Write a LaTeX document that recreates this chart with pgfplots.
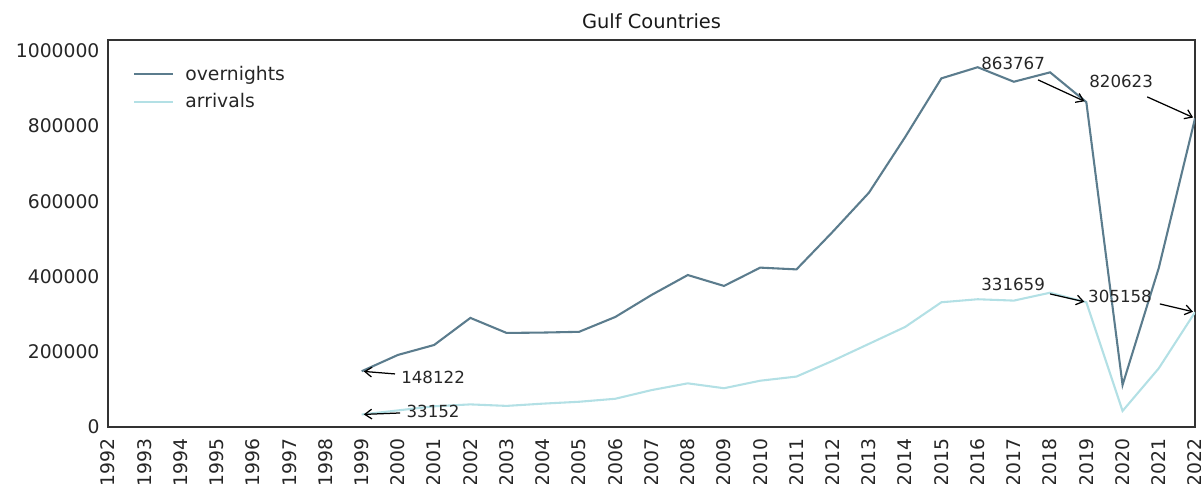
\documentclass[border=0pt]{standalone}
\usepackage{fontspec}
\setmainfont{DejaVu Sans}
\usepackage{pgfplots}
\pgfplotsset{compat=1.18}
\usetikzlibrary{arrows.meta}
\definecolor{over}{HTML}{5B7C8D}
\definecolor{arr}{HTML}{B3E0E5}
\definecolor{frame}{HTML}{333333}
\newcommand{\bigf}{\fontsize{13.5}{16}\selectfont}
\newcommand{\annf}{\fontsize{12}{14}\selectfont}

\begin{document}
\begin{tikzpicture}
\begin{axis}[
  name=ax,
  width=782.6pt, height=278.6pt, scale only axis,
  xmin=1992, xmax=2022, ymin=0, ymax=1029000,
  axis line style={frame, line width=1.4pt},
  xtick={1992,...,2022},
  ytick={0,200000,400000,600000,800000,1000000},
  major tick length=0pt,
  scaled y ticks=false,
  /pgf/number format/assume math mode=true,
  /pgf/number format/1000 sep={},
  /pgf/number format/fixed,
  tick label style={font=\bigf, text=black!85},
  xticklabel style={rotate=90, anchor=east, inner sep=0pt, xshift=-8pt},
  yticklabel style={anchor=east, inner sep=0pt, xshift=-6pt},
  title={Gulf Countries},
  title style={font=\fontsize{14}{16}\selectfont, text=black!90, at={(0.5,1)}, anchor=south, inner sep=0pt, yshift=2pt},
  legend style={draw=none, fill=none, at={(0.023,0.94)}, anchor=north west,
    inner sep=0pt, row sep=4pt, font=\bigf, text=black!85},
  legend cell align=left,
  legend image code/.code={\draw[#1] (0pt,0pt) -- (28pt,0pt); \path (34pt,0pt);},
]
\addplot[over, line width=1.5pt] coordinates {
  (1999,148122) (2000,191500) (2001,218000) (2002,290000) (2003,250000)
  (2004,251000) (2005,253000) (2006,292500) (2007,351000) (2008,404000)
  (2009,375000) (2010,423700) (2011,419000) (2012,519000) (2013,623000)
  (2014,771000) (2015,927000) (2016,956600) (2017,918000) (2018,943000)
  (2019,863767) (2020,111700) (2021,423000) (2022,820623)
};
\addlegendentry{overnights}
\addplot[arr, line width=1.5pt] coordinates {
  (1999,33152) (2000,44000) (2001,55000) (2002,60000) (2003,56000)
  (2004,62000) (2005,67000) (2006,75000) (2007,98000) (2008,116000)
  (2009,103000) (2010,123000) (2011,134000) (2012,176000) (2013,221000)
  (2014,266000) (2015,331600) (2016,339600) (2017,336000) (2018,357000)
  (2019,331659) (2020,42500) (2021,156000) (2022,305158)
};
\addlegendentry{arrivals}

\tikzset{ar/.style={-{Straight Barb[length=5pt,width=7pt]}, line width=0.9pt, black, shorten >=1.5pt}}
\node[font=\annf, text=black!85] at (2016.98,965400) {863767};
\draw[ar] (2017.67,922900) -- (2019,863767);
\node[font=\annf, text=black!85] at (2019.96,917600) {820623};
\draw[ar] (2020.68,877700) -- (2022,820623);
\node[font=\annf, text=black!85] at (2016.98,377700) {331659};
\draw[ar] (2018.0,353700) -- (2019,331659);
\node[font=\annf, text=black!85] at (2019.93,348400) {305158};
\draw[ar] (2021.03,327100) -- (2022,305158);
\node[font=\annf, text=black!85] at (2000.97,133000) {148122};
\draw[ar] (1999.92,141000) -- (1999,148122);
\node[font=\annf, text=black!85] at (2000.97,42550) {33152};
\draw[ar] (2000.06,37200) -- (1999,33152);
\end{axis}
\pgfresetboundingbox
\path ([shift={(-77.8pt,-41pt)}]ax.south west) rectangle ([shift={(4.3pt,28.8pt)}]ax.north east);
\end{tikzpicture}
\end{document}
